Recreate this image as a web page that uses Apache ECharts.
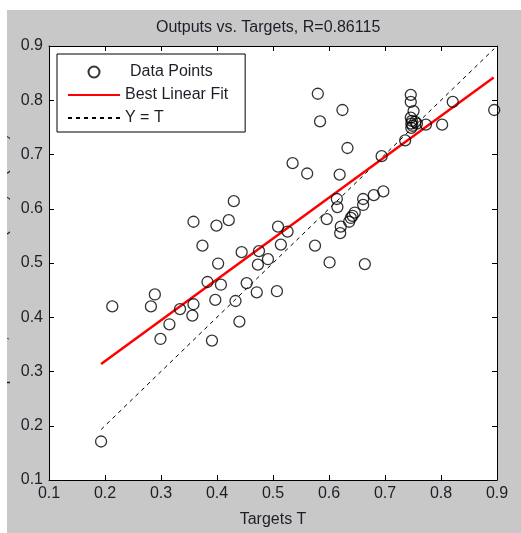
<!DOCTYPE html>
<html>
<head>
<meta charset="utf-8">
<script src="https://cdn.jsdelivr.net/npm/echarts@6/dist/echarts.min.js"></script>
<style>
  html, body { margin: 0; padding: 0; background: #ffffff; width: 521px; height: 533px; overflow: hidden; }
  #chart { position: absolute; left: 7px; top: 10px; width: 514px; height: 523px; }
</style>
</head>
<body>
<div id="chart"></div>
<script>
// ---- data ----
const titleText = 'Outputs vs. Targets, R=0.86115';
const xName = 'Targets T';
const yName = 'Outputs Y, Linear Fit: Y=(0.75)T+(0.17)';
const legendNames = ['Data Points', 'Best Linear Fit', 'Y = T'];
const tickMin = 0.1, tickMax = 0.9, tickStep = 0.1;

const targets = [
  0.193, 0.213, 0.289, 0.282, 0.299, 0.315, 0.334, 0.358, 0.356, 0.358,
  0.374, 0.383, 0.391, 0.397, 0.399, 0.402, 0.407, 0.421, 0.430, 0.433,
  0.440, 0.444, 0.453, 0.471, 0.473, 0.475, 0.491, 0.507, 0.509, 0.526,
  0.514, 0.580, 0.624, 0.584, 0.633, 0.535, 0.561, 0.619, 0.694, 0.736,
  0.746, 0.746, 0.751, 0.746, 0.748, 0.747, 0.749, 0.747, 0.754, 0.757,
  0.773, 0.802, 0.821, 0.895, 0.575, 0.601, 0.664, 0.596, 0.614, 0.615,
  0.621, 0.620, 0.636, 0.642, 0.646, 0.639, 0.661, 0.661, 0.680, 0.697
];
const outputs = [
  0.171, 0.420, 0.442, 0.420, 0.360, 0.387, 0.415, 0.424, 0.403, 0.576,
  0.532, 0.465, 0.357, 0.432, 0.569, 0.499, 0.460, 0.579, 0.614, 0.430,
  0.392, 0.520, 0.463, 0.446, 0.497, 0.522, 0.507, 0.448, 0.567, 0.558,
  0.534, 0.812, 0.782, 0.761, 0.712, 0.684, 0.665, 0.663, 0.697, 0.726,
  0.810, 0.797, 0.780, 0.768, 0.762, 0.757, 0.753, 0.749, 0.760, 0.757,
  0.755, 0.755, 0.797, 0.782, 0.532, 0.501, 0.498, 0.581, 0.618, 0.603,
  0.567, 0.555, 0.576, 0.587, 0.593, 0.583, 0.618, 0.607, 0.625, 0.632
];
// best linear fit endpoints (T, Y)
const fitT = [0.193, 0.894];
const fitY = [0.314, 0.842];
// Y = T reference line endpoints
const idT = [0.193, 0.895];

// ---- chart ----
const font = '"Liberation Sans", Arial, sans-serif';
const labelColor = '#1e1e28';
const chart = echarts.init(document.getElementById('chart'), null, { renderer: 'canvas' });

const scatterData = targets.map((t, i) => [t, outputs[i]]);
const fitData = fitT.map((t, i) => [t, fitY[i]]);
const idData = idT.map(t => [t, t]);

function baseAxis(extra) {
  return Object.assign({
    type: 'value',
    min: tickMin, max: tickMax, interval: tickStep,
    axisLine: { show: true, onZero: false, lineStyle: { color: '#000', width: 1 } },
    axisTick: { show: true, inside: true, length: 5, lineStyle: { color: '#000', width: 1 } },
    splitLine: { show: false },
    axisLabel: {
      show: true, margin: 6, fontSize: 16, fontFamily: font, color: labelColor,
      formatter: v => v.toFixed(1), showMinLabel: true, showMaxLabel: true
    }
  }, extra || {});
}

chart.setOption({
  animation: false,
  backgroundColor: '#c8c8c8',
  title: {
    text: titleText,
    left: 149, top: 10, padding: 0,
    textStyle: { fontSize: 16, fontWeight: 'normal', fontFamily: font, color: labelColor }
  },
  grid: {
    left: 42, top: 36, width: 448, height: 442,
    show: true, backgroundColor: '#ffffff', borderWidth: 0,
    containLabel: false
  },
  legend: {
    data: [
      { name: legendNames[0] },
      { name: legendNames[1], itemStyle: { opacity: 0 } },
      { name: legendNames[2], itemStyle: { opacity: 0 } }
    ],
    orient: 'vertical',
    left: 50, top: 44,
    padding: [10, 17, 6, 10],
    itemGap: 7,
    itemWidth: 52, itemHeight: 11,
    backgroundColor: '#ffffff',
    borderColor: '#000', borderWidth: 1,
    borderRadius: 0,
    formatter: name => name === legendNames[0] ? '{g|}' + name : name,
    textStyle: {
      fontSize: 16, fontFamily: font, color: labelColor,
      rich: { g: { width: 5 } }
    },
    selectedMode: false
  },
  xAxis: [
    baseAxis({ position: 'bottom', name: xName, nameLocation: 'middle', nameGap: 32,
      nameTextStyle: { fontSize: 16, fontFamily: font, color: labelColor } }),
    baseAxis({ position: 'top', axisLabel: { show: false } })
  ],
  yAxis: [
    baseAxis({ position: 'left' }),
    baseAxis({ position: 'right', axisLabel: { show: false } })
  ],
  graphic: [
    {
      type: 'text',
      x: 4, y: 262,
      rotation: Math.PI / 2,
      silent: true,
      style: {
        text: yName,
        font: '16px ' + font,
        fill: labelColor,
        align: 'center',
        verticalAlign: 'bottom'
      }
    }
  ],
  series: [
    {
      name: 'Y = T',
      type: 'line',
      data: idData,
      symbol: 'none',
      z: 2,
      lineStyle: { color: '#000', width: 1, type: [4, 4] },
      itemStyle: { color: '#000' }
    },
    {
      name: 'Best Linear Fit',
      type: 'line',
      data: fitData,
      symbol: 'none',
      z: 3,
      lineStyle: { color: '#ff0000', width: 2.5 },
      itemStyle: { color: '#ff0000' }
    },
    {
      name: 'Data Points',
      type: 'scatter',
      data: scatterData,
      symbol: 'circle',
      symbolSize: 11,
      z: 4,
      itemStyle: { color: 'rgba(0,0,0,0)', borderColor: '#000', borderWidth: 1.3 }
    }
  ]
});
</script>
</body>
</html>
